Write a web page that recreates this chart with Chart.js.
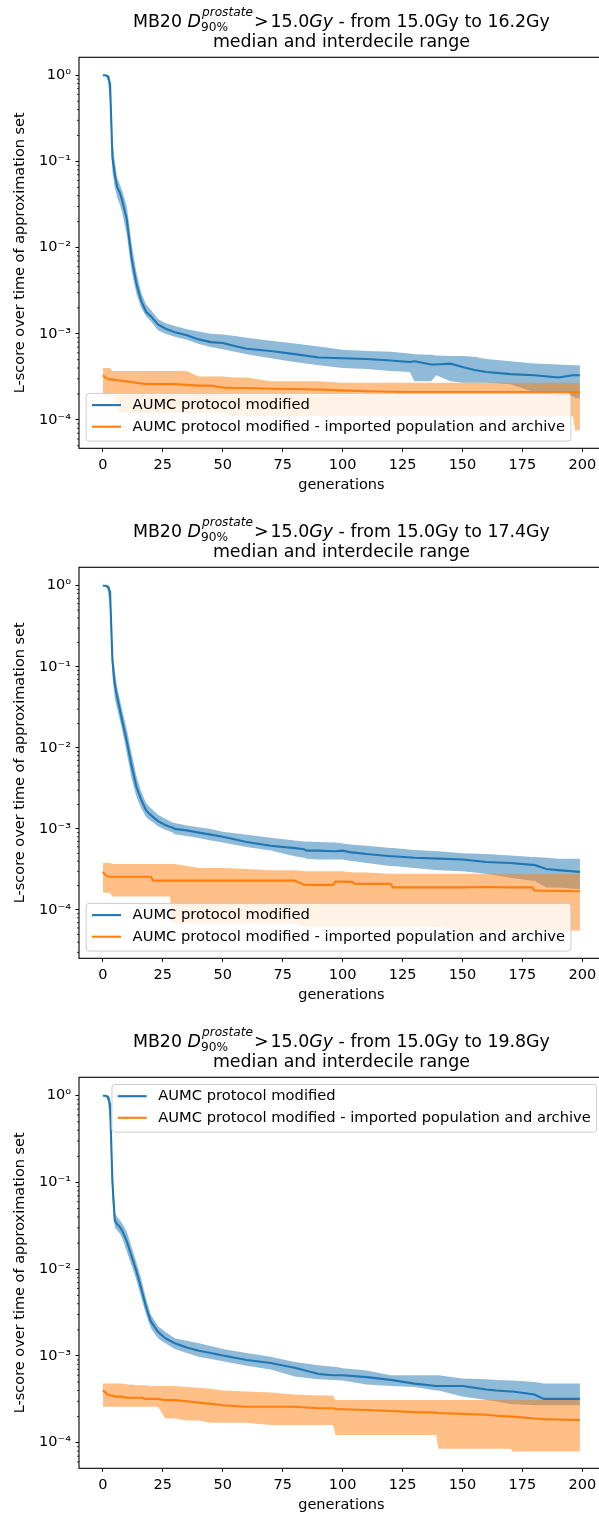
<!DOCTYPE html>
<html>
<head>
<meta charset="utf-8">
<script src="https://cdn.jsdelivr.net/npm/chart.js@4.4.1/dist/chart.umd.min.js"></script>
<style>
  html, body { margin: 0; padding: 0; background: #fff; width: 599px; height: 1515px; overflow: hidden; position: relative; }
  canvas.panel { position: absolute; left: 0; width: 610px; height: 510px; }
</style>
</head>
<body>
<canvas id="panel1" class="panel" width="610" height="510" style="top:0px"></canvas>
<canvas id="panel2" class="panel" width="610" height="510" style="top:510px"></canvas>
<canvas id="panel3" class="panel" width="610" height="510" style="top:1020px"></canvas>
<script>
// Ticks and labels
const X_TICKS = [0, 25, 50, 75, 100, 125, 150, 175, 200];
const Y_TICKS = [0.0001, 0.001, 0.01, 0.1, 1];
const Y_TICK_LABELS = ['10\u207B\u2074', '10\u207B\u00B3', '10\u207B\u00B2', '10\u207B\u00B9', '10\u2070'];
const LEGEND_LABELS = ['AUMC protocol modified', 'AUMC protocol modified - imported population and archive'];
const UPPER_DOSE = ['16.2', '17.4', '19.8'];

// Panel 1: from 15.0Gy to 16.2Gy
const P1_GENS = [0, 1, 2, 3, 4, 5, 6, 7, 8, 10, 12, 14, 16, 18, 20, 23, 26, 30, 35, 40, 45, 50, 55, 60, 70, 80, 90, 100, 110, 120, 128, 130, 137, 139, 145, 150, 155, 160, 170, 180, 190, 196, 197, 199];
const P1_BLUE_MED = [1, 1, 0.98, 0.8, 0.11, 0.07, 0.05, 0.044, 0.036, 0.021,
  0.0075, 0.0038, 0.0024, 0.0018, 0.0016, 0.00128, 0.00115, 0.00104, 0.00096, 0.00086,
  0.0008, 0.00078, 0.00072, 0.00067, 0.00063, 0.00058, 0.00053, 0.00052, 0.00051, 0.00049,
  0.00047, 0.00048, 0.00044, 0.00044, 0.00045, 0.00041, 0.00038, 0.00036, 0.00034, 0.00033,
  0.00031, 0.00033, 0.00033, 0.00033];
const P1_BLUE_HI = [1, 1, 1, 0.97, 0.17, 0.1, 0.065, 0.055, 0.046, 0.03,
  0.011, 0.0052, 0.003, 0.0022, 0.0019, 0.00148, 0.00133, 0.00123, 0.00113, 0.00106,
  0.001, 0.00098, 0.00094, 0.0009, 0.00083, 0.00077, 0.00071, 0.00065, 0.00063, 0.00062,
  0.00059, 0.00058, 0.00057, 0.00056, 0.00055, 0.00055, 0.00054, 0.00051, 0.00048, 0.00045,
  0.00044, 0.00043, 0.00043, 0.00043];
const P1_BLUE_LO = [1, 0.99, 0.9, 0.5, 0.075, 0.05, 0.038, 0.032, 0.026, 0.014,
  0.0053, 0.0029, 0.002, 0.0016, 0.0014, 0.0011, 0.001, 0.00092, 0.00085, 0.00076,
  0.0007, 0.00066, 0.00062, 0.00058, 0.00052, 0.00047, 0.00043, 0.0004, 0.00039, 0.00037,
  0.00036, 0.00028, 0.00028, 0.00033, 0.00028, 0.00027, 0.00027, 0.00027, 0.00026, 0.00021,
  0.00019, 0.00019, 0.00018, 0.00018];
const P1_ORANGE_MED = [0.00033, 0.00031, 0.0003, 0.000295, 0.000295, 0.00029, 0.00029, 0.000285, 0.000285, 0.00028,
  0.000275, 0.00027, 0.000265, 0.00026, 0.00026, 0.00026, 0.00026, 0.00026, 0.000255, 0.00025,
  0.00025, 0.000238, 0.000235, 0.000235, 0.00023, 0.000228, 0.000225, 0.00022, 0.000215, 0.000212,
  0.00021, 0.00021, 0.00021, 0.00021, 0.00021, 0.00021, 0.00021, 0.00021, 0.00021, 0.00021,
  0.00021, 0.00021, 0.00021, 0.00021];
const P1_ORANGE_HI = [0.0004, 0.0004, 0.0004, 0.0004, 0.00037, 0.00037, 0.00037, 0.00037, 0.00037, 0.00037,
  0.00037, 0.00037, 0.00037, 0.00037, 0.00037, 0.00037, 0.00037, 0.00037, 0.00037, 0.00032,
  0.00032, 0.00032, 0.00031, 0.00031, 0.00028, 0.00028, 0.00028, 0.00027, 0.00027, 0.00027,
  0.00027, 0.00027, 0.00027, 0.00027, 0.00027, 0.00027, 0.00027, 0.00027, 0.00027, 0.00027,
  0.00027, 0.00027, 0.00027, 0.00027];
const P1_ORANGE_LO = [0.00019, 0.00019, 0.00019, 0.00019, 0.00019, 0.00019, 0.00013, 0.00012, 0.00012, 0.00012,
  0.00012, 0.00012, 0.00012, 0.00012, 0.00012, 0.00012, 0.00012, 0.00012, 0.00012, 0.00012,
  0.00012, 0.00012, 0.00011, 0.00011, 0.00011, 0.00011, 0.00011, 0.00011, 0.00011, 0.00011,
  0.00011, 0.00011, 0.00011, 0.00011, 0.00011, 0.00011, 0.00011, 0.00011, 0.00011, 0.00011,
  0.00011, 0.00011, 0.000076, 0.000076];

// Panel 2: from 15.0Gy to 17.4Gy
const P2_GENS = [0, 1, 2, 3, 4, 5, 6, 8, 10, 12, 14, 16, 18, 20, 21, 23, 26, 28, 29, 30, 35, 40, 45, 50, 60, 70, 80, 84, 85, 90, 96, 97, 100, 104, 105, 110, 120, 121, 130, 140, 150, 160, 170, 179, 180, 185, 190, 199];
const P2_BLUE_MED = [1, 1, 0.98, 0.84, 0.12, 0.06, 0.042, 0.022, 0.012, 0.006,
  0.0033, 0.0023, 0.0017, 0.00148, 0.0014, 0.00125, 0.00112, 0.00106, 0.00104, 0.001,
  0.00096, 0.0009, 0.00085, 0.0008, 0.00069, 0.00062, 0.00058, 0.00056, 0.00054, 0.00054,
  0.00053, 0.00053, 0.00054, 0.00051, 0.00051, 0.00049, 0.00046, 0.00046, 0.00044, 0.00043,
  0.00042, 0.00039, 0.00038, 0.00036, 0.00036, 0.00032, 0.00031, 0.000295];
const P2_BLUE_HI = [1, 1, 1, 0.97, 0.16, 0.085, 0.055, 0.03, 0.017, 0.0085,
  0.0045, 0.0029, 0.0021, 0.0018, 0.0017, 0.0015, 0.00133, 0.00125, 0.0012, 0.00118,
  0.0011, 0.00105, 0.001, 0.00092, 0.00085, 0.00078, 0.00072, 0.0007, 0.0007, 0.00069,
  0.00068, 0.00068, 0.00066, 0.00064, 0.00064, 0.00062, 0.00058, 0.00058, 0.00055, 0.00053,
  0.0005, 0.00049, 0.00047, 0.00045, 0.00045, 0.00044, 0.00043, 0.00043];
const P2_BLUE_LO = [1, 0.99, 0.9, 0.5, 0.075, 0.04, 0.03, 0.017, 0.0085, 0.0042,
  0.0025, 0.0018, 0.0014, 0.00125, 0.0012, 0.00108, 0.00098, 0.00093, 0.0009, 0.00086,
  0.00082, 0.00077, 0.00072, 0.00068, 0.0006, 0.00054, 0.00046, 0.00044, 0.00043, 0.00042,
  0.00042, 0.00042, 0.00042, 0.0004, 0.0004, 0.00038, 0.00035, 0.00035, 0.00033, 0.00031,
  0.0003, 0.00028, 0.00025, 0.00023, 0.00023, 0.00019, 0.00019, 0.00018];
const P2_ORANGE_MED = [0.000295, 0.00027, 0.00026, 0.000257, 0.000257, 0.000257, 0.000257, 0.000257, 0.000257, 0.000257,
  0.000257, 0.000257, 0.000257, 0.000257, 0.00023, 0.00023, 0.00023, 0.00023, 0.00023, 0.00023,
  0.00023, 0.00023, 0.00023, 0.00023, 0.00023, 0.00023, 0.00023, 0.000205, 0.000204, 0.000204,
  0.000204, 0.000224, 0.000224, 0.000222, 0.00021, 0.00021, 0.00021, 0.00019, 0.00019, 0.00019,
  0.00019, 0.000192, 0.00019, 0.00019, 0.000174, 0.000173, 0.000172, 0.00017];
const P2_ORANGE_HI = [0.00038, 0.00038, 0.00038, 0.00038, 0.00037, 0.00037, 0.00037, 0.00037, 0.00037, 0.00037,
  0.00037, 0.00037, 0.00037, 0.00037, 0.00037, 0.00037, 0.00037, 0.00037, 0.00037, 0.00037,
  0.00035, 0.00033, 0.00033, 0.00033, 0.00032, 0.00031, 0.00031, 0.0003, 0.0003, 0.0003,
  0.0003, 0.0003, 0.0003, 0.00029, 0.00029, 0.00029, 0.00028, 0.00028, 0.00028, 0.00028,
  0.00028, 0.00028, 0.00028, 0.00028, 0.00028, 0.00028, 0.00028, 0.00028];
const P2_ORANGE_LO = [0.000163, 0.000163, 0.000163, 0.000163, 0.000147, 0.000147, 0.000147, 0.000147, 0.000147, 0.000147,
  0.000147, 0.000147, 0.000147, 0.000147, 0.000147, 0.000147, 0.000147, 0.000147, 0.000069, 0.000068,
  0.000068, 0.000068, 0.000068, 0.000068, 0.000068, 0.000068, 0.000068, 0.000062, 0.000062, 0.000062,
  0.000062, 0.000062, 0.000062, 0.000062, 0.000062, 0.000062, 0.000062, 0.000062, 0.000062, 0.000062,
  0.000056, 0.000056, 0.000056, 0.000056, 0.000056, 0.000056, 0.000056, 0.000056];

// Panel 3: from 15.0Gy to 19.8Gy
const P3_GENS = [0, 1, 2, 3, 4, 5, 6, 7, 8, 10, 12, 14, 16, 18, 20, 23, 26, 30, 35, 40, 45, 50, 60, 70, 80, 90, 96, 97, 100, 110, 120, 130, 139, 140, 150, 160, 164, 170, 171, 180, 184, 190, 199];
const P3_BLUE_MED = [1, 1, 0.98, 0.8, 0.1, 0.036, 0.033, 0.031, 0.028, 0.021,
  0.014, 0.0095, 0.006, 0.0037, 0.0025, 0.0019, 0.0016, 0.0014, 0.00125, 0.00115,
  0.00108, 0.00101, 0.0009, 0.00083, 0.00073, 0.00062, 0.0006, 0.0006, 0.0006, 0.00057,
  0.00053, 0.00048, 0.00045, 0.00045, 0.00045, 0.00041, 0.0004, 0.00039, 0.00039, 0.00036,
  0.00032, 0.00032, 0.00032];
const P3_BLUE_HI = [1, 1, 1, 0.97, 0.14, 0.045, 0.04, 0.037, 0.034, 0.027,
  0.018, 0.012, 0.0078, 0.0046, 0.003, 0.0022, 0.0019, 0.0016, 0.0015, 0.0014,
  0.0013, 0.0012, 0.00108, 0.00098, 0.00085, 0.00078, 0.00075, 0.00075, 0.00072, 0.00068,
  0.0006, 0.0006, 0.0006, 0.0006, 0.00055, 0.00054, 0.00053, 0.00052, 0.00052, 0.0005,
  0.00048, 0.00048, 0.00048];
const P3_BLUE_LO = [1, 0.99, 0.9, 0.5, 0.06, 0.03, 0.028, 0.026, 0.023, 0.016,
  0.011, 0.0075, 0.0047, 0.003, 0.0021, 0.0016, 0.0014, 0.0012, 0.00108, 0.00098,
  0.00092, 0.00087, 0.00077, 0.0007, 0.00058, 0.00054, 0.00053, 0.00053, 0.00052, 0.00047,
  0.00045, 0.00044, 0.0004, 0.0004, 0.00034, 0.00031, 0.0003, 0.00028, 0.00028, 0.00027,
  0.00027, 0.00027, 0.00027];
const P3_ORANGE_MED = [0.0004, 0.00038, 0.00036, 0.00035, 0.00035, 0.00034, 0.00034, 0.00034, 0.00034, 0.00033,
  0.00033, 0.00033, 0.00033, 0.00032, 0.00032, 0.00032, 0.00031, 0.00031, 0.0003, 0.00029,
  0.00028, 0.00027, 0.00026, 0.00026, 0.00026, 0.00025, 0.00025, 0.000245, 0.000243, 0.000238,
  0.000232, 0.000225, 0.000222, 0.00022, 0.000215, 0.00021, 0.000205, 0.0002, 0.0002, 0.00019,
  0.000187, 0.000185, 0.000182];
const P3_ORANGE_HI = [0.00048, 0.00048, 0.00048, 0.00048, 0.00048, 0.00048, 0.00048, 0.00048, 0.00048, 0.00047,
  0.00047, 0.00046, 0.00046, 0.00046, 0.00045, 0.00045, 0.00045, 0.00045, 0.00044, 0.00043,
  0.00042, 0.0004, 0.00039, 0.00038, 0.00036, 0.00035, 0.00035, 0.00031, 0.00031, 0.00031,
  0.00031, 0.00031, 0.00031, 0.00031, 0.00031, 0.00031, 0.00031, 0.00031, 0.00031, 0.00031,
  0.00031, 0.00031, 0.00031];
const P3_ORANGE_LO = [0.00026, 0.00026, 0.00026, 0.00026, 0.00026, 0.00026, 0.00026, 0.00026, 0.00026, 0.00026,
  0.00026, 0.00026, 0.00026, 0.00026, 0.00026, 0.00026, 0.00019, 0.00019, 0.00018, 0.00018,
  0.00017, 0.00017, 0.00017, 0.00016, 0.00016, 0.00016, 0.00016, 0.000123, 0.000123, 0.000123,
  0.000123, 0.000123, 0.000123, 0.000085, 0.000085, 0.000085, 0.000085, 0.000085, 0.000079, 0.000079,
  0.000079, 0.000079, 0.000079];

const FONT = "'DejaVu Sans', sans-serif";
const BLUE = '#1f77b4';
const ORANGE = '#ff7f0e';
const BLUE_BAND = 'rgba(31, 119, 180, 0.5)';
const ORANGE_BAND = 'rgba(255, 127, 14, 0.5)';

function points(gens, vals) {
    return gens.map((g, i) => ({ x: g, y: vals[i] }));
}

// Box around the plot area + minor log ticks
const framePlugin = {
    id: 'frame',
    afterDraw(chart) {
        const { ctx, chartArea: a } = chart;
        const y = chart.scales.y;
        ctx.save();
        ctx.strokeStyle = '#000';
        ctx.lineWidth = 0.8;
        for (let e = -6; e <= 1; e++) {
            for (let k = 2; k <= 9; k++) {
                const v = k * Math.pow(10, e);
                if (v < y.min || v > y.max) continue;
                const p = y.getPixelForValue(v);
                ctx.beginPath();
                ctx.moveTo(a.left, p);
                ctx.lineTo(a.left - 2, p);
                ctx.stroke();
            }
        }
        ctx.lineWidth = 1.1;
        ctx.strokeRect(a.left, a.top, a.right - a.left, a.bottom - a.top);
        ctx.restore();
    }
};

// Matplotlib-like legend box inside the axes
const boxLegendPlugin = {
    id: 'boxLegend',
    afterDatasetsDraw(chart, args, opts) {
        const { ctx, chartArea: a } = chart;
        const fs = 14.7;
        ctx.save();
        ctx.font = fs + 'px ' + FONT;
        const tw = Math.max(...LEGEND_LABELS.map(t => ctx.measureText(t).width));
        const pad = 5.8, handle = 29, hpad = 11.6;
        const bw = pad + handle + hpad + tw + pad;
        const bh = 47.7;
        const upper = opts.corner === 'upper right';
        const bx = upper ? a.right - 7.2 - bw : a.left + 7.2;
        const by = upper ? a.top + 7.2 : a.bottom - 7.2 - bh;
        const r = 3;
        ctx.beginPath();
        ctx.moveTo(bx + r, by);
        ctx.lineTo(bx + bw - r, by);
        ctx.arcTo(bx + bw, by, bx + bw, by + r, r);
        ctx.lineTo(bx + bw, by + bh - r);
        ctx.arcTo(bx + bw, by + bh, bx + bw - r, by + bh, r);
        ctx.lineTo(bx + r, by + bh);
        ctx.arcTo(bx, by + bh, bx, by + bh - r, r);
        ctx.lineTo(bx, by + r);
        ctx.arcTo(bx, by, bx + r, by, r);
        ctx.closePath();
        ctx.fillStyle = 'rgba(255, 255, 255, 0.8)';
        ctx.fill();
        ctx.strokeStyle = '#cccccc';
        ctx.lineWidth = 1;
        ctx.stroke();
        const rows = [by + 11.7, by + 33.3];
        const colors = [BLUE, ORANGE];
        rows.forEach((ry, i) => {
            ctx.strokeStyle = colors[i];
            ctx.lineWidth = 2.1;
            ctx.beginPath();
            ctx.moveTo(bx + pad, ry);
            ctx.lineTo(bx + pad + handle, ry);
            ctx.stroke();
            ctx.fillStyle = '#000';
            ctx.textBaseline = 'middle';
            ctx.textAlign = 'left';
            ctx.fillText(LEGEND_LABELS[i], bx + pad + handle + hpad, ry);
        });
        ctx.restore();
    }
};

// Two-line title with D^{prostate}_{90%} math part
const richTitlePlugin = {
    id: 'richTitle',
    afterDraw(chart, args, opts) {
        const { ctx, chartArea: a } = chart;
        const cx = (a.left + a.right) / 2;
        const S = 17.4, s = 12.2;
        const norm = S + 'px ' + FONT, ital = 'italic ' + S + 'px ' + FONT;
        const sNorm = s + 'px ' + FONT, sItal = 'italic ' + s + 'px ' + FONT;
        ctx.save();
        ctx.fillStyle = '#000';
        ctx.textBaseline = 'alphabetic';
        ctx.textAlign = 'left';
        const w = (t, f) => { ctx.font = f; return ctx.measureText(t).width; };
        const head = 'MB20 ';
        const tail = ' - from 15.0Gy to ' + opts.upper + 'Gy';
        const gap = 2;
        const scriptW = Math.max(w('prostate', sItal), w('90%', sNorm));
        const widths = [w(head, norm), w('D', ital), scriptW + gap, w('>', norm) + gap, w('15.0', norm), w('Gy', ital), w(tail, norm)];
        let x = cx - widths.reduce((p, q) => p + q, 0) / 2;
        const y1 = opts.line1;
        ctx.font = norm; ctx.fillText(head, x, y1); x += widths[0];
        ctx.font = ital; ctx.fillText('D', x, y1); x += widths[1];
        ctx.font = sItal; ctx.fillText('prostate', x + 1, y1 - 10.6);
        ctx.font = sNorm; ctx.fillText('90%', x, y1 + 4.4); x += widths[2];
        ctx.font = norm; ctx.fillText('>', x, y1); x += widths[3];
        ctx.fillText('15.0', x, y1); x += widths[4];
        ctx.font = ital; ctx.fillText('Gy', x, y1); x += widths[5];
        ctx.font = norm; ctx.fillText(tail, x, y1);
        ctx.textAlign = 'center';
        ctx.fillText('median and interdecile range', cx, opts.line2);
        ctx.restore();
    }
};

function makePanel(id, gens, blueMed, blueHi, blueLo, orangeMed, orangeHi, orangeLo, yMin, yMax, corner, upper) {
    const tickFont = { family: FONT, size: 14.5 };
    return new Chart(document.getElementById(id), {
        type: 'line',
        data: {
            datasets: [
                { data: points(gens, blueHi), borderWidth: 0, pointRadius: 0, fill: '+1', backgroundColor: BLUE_BAND, order: 6 },
                { data: points(gens, blueLo), borderWidth: 0, pointRadius: 0, fill: false, order: 5 },
                { data: points(gens, blueMed), borderColor: BLUE, borderWidth: 2.1, pointRadius: 0, fill: false, order: 4 },
                { data: points(gens, orangeHi), borderWidth: 0, pointRadius: 0, fill: '+1', backgroundColor: ORANGE_BAND, order: 3 },
                { data: points(gens, orangeLo), borderWidth: 0, pointRadius: 0, fill: false, order: 2 },
                { data: points(gens, orangeMed), borderColor: ORANGE, borderWidth: 2.1, pointRadius: 0, fill: false, order: 1 }
            ]
        },
        options: {
            responsive: false,
            animation: false,
            devicePixelRatio: 1,
            layout: { padding: { top: 57.3, right: 6.2, left: 0, bottom: 0 } },
            plugins: {
                legend: { display: false },
                tooltip: { enabled: false },
                boxLegend: { corner: corner },
                richTitle: { upper: upper, line1: 27, line2: 47 }
            },
            scales: {
                x: {
                    type: 'linear',
                    min: -9.95,
                    max: 208.95,
                    afterBuildTicks: (s) => { s.ticks = X_TICKS.map(v => ({ value: v })); },
                    afterFit: (s) => { s.height = 61.7; },
                    ticks: { font: tickFont, color: '#000', padding: 5, autoSkip: false, maxRotation: 0 },
                    grid: { display: true, drawOnChartArea: false, drawTicks: true, tickLength: 3.5, tickWidth: 1, tickColor: '#000' },
                    border: { display: false },
                    title: { display: true, text: 'generations', color: '#000', font: tickFont, padding: { top: 0, bottom: 16.3 } }
                },
                y: {
                    type: 'logarithmic',
                    min: yMin,
                    max: yMax,
                    afterBuildTicks: (s) => { s.ticks = Y_TICKS.map(v => ({ value: v })); },
                    afterFit: (s) => { s.width = 79; },
                    ticks: { font: tickFont, color: '#000', padding: 4.5, callback: (v, i) => Y_TICK_LABELS[i] },
                    grid: { display: true, drawOnChartArea: false, drawTicks: true, tickLength: 3.5, tickWidth: 1, tickColor: '#000' },
                    border: { display: false },
                    title: { display: true, text: 'L-score over time of approximation set', color: '#000', font: tickFont, padding: { top: 12, bottom: 0 } }
                }
            }
        },
        plugins: [boxLegendPlugin, framePlugin, richTitlePlugin]
    });
}

makePanel('panel1', P1_GENS, P1_BLUE_MED, P1_BLUE_HI, P1_BLUE_LO, P1_ORANGE_MED, P1_ORANGE_HI, P1_ORANGE_LO,
    4.68e-5, 1.618, 'lower left', UPPER_DOSE[0]);
makePanel('panel2', P2_GENS, P2_BLUE_MED, P2_BLUE_HI, P2_BLUE_LO, P2_ORANGE_MED, P2_ORANGE_HI, P2_ORANGE_LO,
    2.535e-5, 1.687, 'lower left', UPPER_DOSE[1]);
makePanel('panel3', P3_GENS, P3_BLUE_MED, P3_BLUE_HI, P3_BLUE_LO, P3_ORANGE_MED, P3_ORANGE_HI, P3_ORANGE_LO,
    5.07e-5, 1.63, 'upper right', UPPER_DOSE[2]);
</script>
</body>
</html>
